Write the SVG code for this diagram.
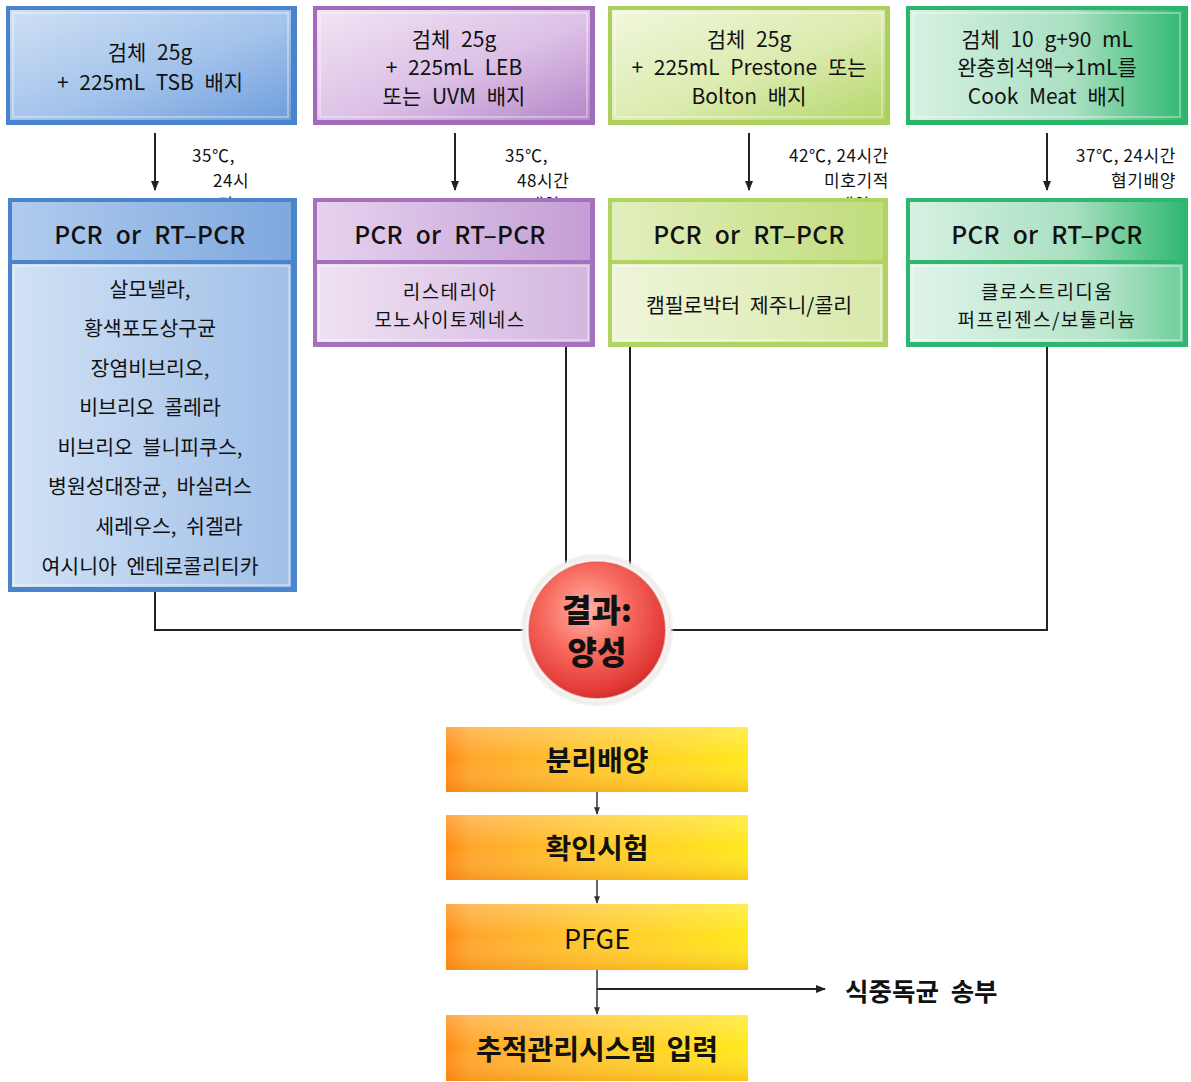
<svg xmlns="http://www.w3.org/2000/svg" width="1191" height="1082" viewBox="0 0 1191 1082">
  <defs>
    <style>
      text { font-family: "Noto Sans CJK KR", "Noto Sans", sans-serif; fill: #111; }
      .t20 { font-size: 21px; text-anchor: middle; word-spacing: 6px; }
      .hdr { font-size: 24.5px; font-weight: 500; text-anchor: middle; word-spacing: 7px; letter-spacing: 0.3px; }
      .body { font-size: 20.5px; text-anchor: middle; word-spacing: 5px; }
      .body2 { font-size: 19px; text-anchor: middle; word-spacing: 5px; letter-spacing: 1.4px; }
      .lbl { font-size: 17px; letter-spacing: 0.6px; }
      .lblr { font-size: 17px; letter-spacing: 0.6px; text-anchor: end; }
      .step { font-size: 28px; font-weight: 700; text-anchor: middle; word-spacing: 4px; }
      .stepr { font-size: 27px; font-weight: 400; text-anchor: middle; }
      .side { font-size: 25.5px; font-weight: 700; word-spacing: 6px; }
      .res { font-size: 32px; font-weight: 900; text-anchor: middle; }
      .line { stroke: #222; stroke-width: 2; fill: none; }
      .arr { stroke: #222; stroke-width: 2; fill: none; marker-end: url(#ah); }
      .arrs { stroke: #333; stroke-width: 1.5; fill: none; marker-end: url(#ahs); }
      .hl { fill: none; stroke: #ffffff; stroke-opacity: 0.45; stroke-width: 1.5; }
    </style>
    <marker id="ah" viewBox="0 0 10 10" refX="9" refY="5" markerWidth="5" markerHeight="5" orient="auto">
      <path d="M0,1 L10,5 L0,9 z" fill="#222"/>
    </marker>
    <marker id="ahs" viewBox="0 0 10 10" refX="9" refY="5" markerWidth="5" markerHeight="5" orient="auto">
      <path d="M0,1 L10,5 L0,9 z" fill="#333"/>
    </marker>

    <!-- blue -->
    <linearGradient id="gBlue" x1="0" y1="0" x2="1" y2="1">
      <stop offset="0" stop-color="#cfe0f4"/>
      <stop offset="0.55" stop-color="#a3c3eb"/>
      <stop offset="1" stop-color="#6f9edb"/>
    </linearGradient>
    <linearGradient id="gBlueH" x1="0" y1="0" x2="1" y2="0">
      <stop offset="0" stop-color="#b0cbee"/>
      <stop offset="1" stop-color="#7fa8de"/>
    </linearGradient>
    <linearGradient id="gBlueB" x1="0" y1="0" x2="1" y2="0">
      <stop offset="0" stop-color="#d2e2f5"/>
      <stop offset="1" stop-color="#a0bfe8"/>
    </linearGradient>
    <!-- purple -->
    <linearGradient id="gPur" x1="0" y1="0" x2="1" y2="1">
      <stop offset="0" stop-color="#f1e4f4"/>
      <stop offset="0.55" stop-color="#dcc0e6"/>
      <stop offset="1" stop-color="#b487c8"/>
    </linearGradient>
    <linearGradient id="gPurH" x1="0" y1="0" x2="1" y2="0">
      <stop offset="0" stop-color="#e6d2ee"/>
      <stop offset="1" stop-color="#c49ed6"/>
    </linearGradient>
    <linearGradient id="gPurB" x1="0" y1="0" x2="1" y2="0">
      <stop offset="0" stop-color="#efe2f3"/>
      <stop offset="1" stop-color="#d4b6e0"/>
    </linearGradient>
    <!-- yellow green -->
    <linearGradient id="gLim" x1="0" y1="0" x2="1" y2="1">
      <stop offset="0" stop-color="#f1f7dd"/>
      <stop offset="0.55" stop-color="#dbebae"/>
      <stop offset="1" stop-color="#b6d66c"/>
    </linearGradient>
    <linearGradient id="gLimH" x1="0" y1="0" x2="1" y2="0">
      <stop offset="0" stop-color="#e2efbd"/>
      <stop offset="1" stop-color="#c0dc7c"/>
    </linearGradient>
    <linearGradient id="gLimB" x1="0" y1="0" x2="1" y2="0">
      <stop offset="0" stop-color="#eef5d8"/>
      <stop offset="1" stop-color="#d8e9aa"/>
    </linearGradient>
    <!-- green -->
    <linearGradient id="gGrn" x1="0" y1="0" x2="1" y2="0">
      <stop offset="0" stop-color="#d6f1e2"/>
      <stop offset="0.6" stop-color="#a9dfc1"/>
      <stop offset="0.8" stop-color="#6ccd98"/>
      <stop offset="1" stop-color="#35b873"/>
    </linearGradient>
    <linearGradient id="gGrnB" x1="0" y1="0" x2="1" y2="0">
      <stop offset="0" stop-color="#dff4e8"/>
      <stop offset="0.7" stop-color="#b7e4cb"/>
      <stop offset="1" stop-color="#6fcf9c"/>
    </linearGradient>
    <!-- orange steps -->
    <linearGradient id="gOrg" x1="0" y1="0" x2="1" y2="0">
      <stop offset="0" stop-color="#ff8a10"/>
      <stop offset="0.08" stop-color="#ffa62a"/>
      <stop offset="0.5" stop-color="#ffc82a"/>
      <stop offset="1" stop-color="#ffe81c"/>
    </linearGradient>
    <linearGradient id="gOrgV" x1="0" y1="0" x2="0" y2="1">
      <stop offset="0" stop-color="#ffffff" stop-opacity="0.25"/>
      <stop offset="0.5" stop-color="#ffffff" stop-opacity="0"/>
      <stop offset="1" stop-color="#e06a00" stop-opacity="0.25"/>
    </linearGradient>
    <!-- result circle -->
    <radialGradient id="gRed" cx="0.42" cy="0.36" r="0.7">
      <stop offset="0" stop-color="#ffb4a8"/>
      <stop offset="0.45" stop-color="#f76a5e"/>
      <stop offset="0.85" stop-color="#e23a36"/>
      <stop offset="1" stop-color="#c8262a"/>
    </radialGradient>
    <radialGradient id="gRing" cx="0.5" cy="0.5" r="0.5">
      <stop offset="0.85" stop-color="#ffffff"/>
      <stop offset="0.95" stop-color="#f1ece9"/>
      <stop offset="1" stop-color="#e2dedb" stop-opacity="0"/>
    </radialGradient>
  </defs>

  <rect width="1191" height="1082" fill="#ffffff"/>

  <!-- incubation labels (third lines sit behind the PCR boxes) -->
  <g id="labels">
    <text class="lbl" x="192" y="162">35℃,</text>
    <text class="lbl" x="213" y="187">24시</text>
    <text class="lbl" x="218" y="211">간</text>
    <text class="lbl" x="505" y="162">35℃,</text>
    <text class="lbl" x="517" y="187">48시간</text>
    <text class="lbl" x="528" y="211">배양</text>
    <text class="lblr" x="889" y="162">42℃, 24시간</text>
    <text class="lblr" x="889" y="187">미호기적</text>
    <text class="lbl" x="838" y="211">배양</text>
    <text class="lblr" x="1176" y="162">37℃, 24시간</text>
    <text class="lblr" x="1176" y="187">혐기배양</text>
  </g>

  <g id="connectors">
    <line class="arr" x1="155" y1="133" x2="155" y2="190"/>
    <line class="arr" x1="455" y1="133" x2="455" y2="190"/>
    <line class="arr" x1="749" y1="133" x2="749" y2="190"/>
    <line class="arr" x1="1047" y1="133" x2="1047" y2="190"/>
    <polyline class="line" points="155,592 155,630 530,630"/>
    <line class="line" x1="566" y1="347" x2="566" y2="565"/>
    <line class="line" x1="630" y1="347" x2="630" y2="565"/>
    <polyline class="line" points="1047,347 1047,630 665,630"/>
    <line class="arrs" x1="597" y1="792" x2="597" y2="814"/>
    <line class="arrs" x1="597" y1="880" x2="597" y2="903"/>
    <line class="arrs" x1="597" y1="970" x2="597" y2="1014"/>
    <line class="arr" x1="597" y1="989" x2="825" y2="989"/>
  </g>

  <!-- sample preparation boxes -->
  <g id="prep-blue">
    <rect x="6" y="6" width="291" height="119" fill="#4a83cb"/>
    <rect x="10" y="10" width="281" height="110" fill="url(#gBlue)"/>
    <rect x="13" y="13" width="275" height="104" class="hl"/>
    <text class="t20" x="150" y="60">검체 25g</text>
    <text class="t20" x="150" y="90">+ 225mL TSB 배지</text>
  </g>
  <g id="prep-purple">
    <rect x="313" y="6" width="282" height="119" fill="#a06cba"/>
    <rect x="317" y="10" width="273" height="110" fill="url(#gPur)"/>
    <rect x="320" y="13" width="267" height="104" class="hl"/>
    <text class="t20" x="454" y="47">검체 25g</text>
    <text class="t20" x="454" y="75">+ 225mL LEB</text>
    <text class="t20" x="454" y="104">또는 UVM 배지</text>
  </g>
  <g id="prep-lime">
    <rect x="608" y="6" width="282" height="119" fill="#acd05e"/>
    <rect x="612" y="10" width="273" height="110" fill="url(#gLim)"/>
    <rect x="615" y="13" width="267" height="104" class="hl"/>
    <text class="t20" x="749" y="47">검체 25g</text>
    <text class="t20" x="749" y="75">+ 225mL Prestone 또는</text>
    <text class="t20" x="749" y="104">Bolton 배지</text>
  </g>
  <g id="prep-green">
    <rect x="906" y="6" width="282" height="119" fill="#2cb46d"/>
    <rect x="910" y="10" width="273" height="110" fill="url(#gGrn)"/>
    <rect x="913" y="13" width="267" height="104" class="hl"/>
    <text class="t20" x="1047" y="47">검체 10 g+90 mL</text>
    <text class="t20" x="1047" y="75">완충희석액→1mL를</text>
    <text class="t20" x="1047" y="104">Cook Meat 배지</text>
  </g>

  <!-- PCR detection boxes -->
  <g id="pcr-blue">
    <rect x="8" y="198" width="289" height="394" fill="#4a84ca"/>
    <rect x="12" y="202" width="279" height="58" fill="url(#gBlueH)"/>
    <rect x="12" y="264" width="279" height="323" fill="url(#gBlueB)"/>
    <rect x="14" y="266" width="275" height="319" class="hl"/>
    <text class="hdr" x="150" y="244">PCR or RT–PCR</text>
    <text class="body" x="150" y="297">살모넬라,</text>
    <text class="body" x="150" y="336">황색포도상구균</text>
    <text class="body" x="150" y="376">장염비브리오,</text>
    <text class="body" x="150" y="415">비브리오 콜레라</text>
    <text class="body" x="150" y="455">비브리오 블니피쿠스,</text>
    <text class="body" x="150" y="494">병원성대장균, 바실러스</text>
    <text class="body" x="169" y="534">세레우스, 쉬겔라</text>
    <text class="body" x="150" y="574">여시니아 엔테로콜리티카</text>
  </g>
  <g id="pcr-purple">
    <rect x="313" y="198" width="282" height="149" fill="#a571bd"/>
    <rect x="317" y="202" width="273" height="58" fill="url(#gPurH)"/>
    <rect x="317" y="264" width="273" height="78" fill="url(#gPurB)"/>
    <rect x="319" y="266" width="269" height="74" class="hl"/>
    <text class="hdr" x="450" y="244">PCR or RT–PCR</text>
    <text class="body2" x="450" y="299">리스테리아</text>
    <text class="body2" x="450" y="327">모노사이토제네스</text>
  </g>
  <g id="pcr-lime">
    <rect x="608" y="198" width="280" height="149" fill="#b0d362"/>
    <rect x="612" y="202" width="271" height="58" fill="url(#gLimH)"/>
    <rect x="612" y="264" width="271" height="78" fill="url(#gLimB)"/>
    <rect x="614" y="266" width="267" height="74" class="hl"/>
    <text class="hdr" x="749" y="244">PCR or RT–PCR</text>
    <text class="body" x="749" y="313">캠필로박터 제주니/콜리</text>
  </g>
  <g id="pcr-green">
    <rect x="906" y="198" width="282" height="149" fill="#2fb670"/>
    <rect x="910" y="202" width="273" height="58" fill="url(#gGrn)"/>
    <rect x="910" y="264" width="273" height="78" fill="url(#gGrnB)"/>
    <rect x="912" y="266" width="269" height="74" class="hl"/>
    <text class="hdr" x="1047" y="244">PCR or RT–PCR</text>
    <text class="body2" x="1047" y="299">클로스트리디움</text>
    <text class="body2" x="1047" y="327">퍼프린젠스/보툴리늄</text>
  </g>

  <!-- positive result -->
  <g id="result">
    <circle cx="597" cy="630" r="77" fill="url(#gRing)"/>
    <circle cx="597" cy="630" r="68" fill="url(#gRed)"/>
    <circle cx="597" cy="630" r="68" fill="none" stroke="#d84040" stroke-opacity="0.5" stroke-width="1.5"/>
    <text class="res" x="597" y="622">결과:</text>
    <text class="res" x="597" y="664">양성</text>
  </g>

  <!-- follow-up steps -->
  <g id="step-isolation">
    <rect x="446" y="727" width="302" height="65" fill="url(#gOrg)"/>
    <rect x="446" y="727" width="302" height="65" fill="url(#gOrgV)"/>
    <text class="step" x="597" y="771">분리배양</text>
  </g>
  <g id="step-confirm">
    <rect x="446" y="815" width="302" height="65" fill="url(#gOrg)"/>
    <rect x="446" y="815" width="302" height="65" fill="url(#gOrgV)"/>
    <text class="step" x="597" y="859">확인시험</text>
  </g>
  <g id="step-pfge">
    <rect x="446" y="904" width="302" height="66" fill="url(#gOrg)"/>
    <rect x="446" y="904" width="302" height="66" fill="url(#gOrgV)"/>
    <text class="stepr" x="597" y="949">PFGE</text>
  </g>
  <g id="step-tracking">
    <rect x="446" y="1015" width="302" height="66" fill="url(#gOrg)"/>
    <rect x="446" y="1015" width="302" height="66" fill="url(#gOrgV)"/>
    <text class="step" x="597" y="1060">추적관리시스템 입력</text>
  </g>
  <g id="send-out">
    <text class="side" x="845" y="1001">식중독균 송부</text>
  </g>
</svg>
